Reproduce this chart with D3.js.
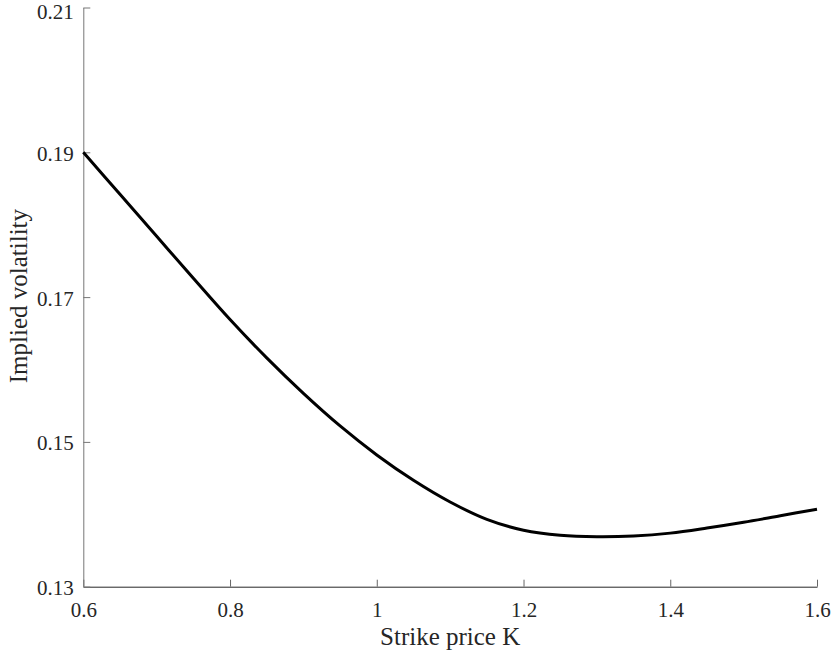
<!DOCTYPE html>
<html>
<head>
<meta charset="utf-8">
<script src="https://cdn.jsdelivr.net/npm/d3@7"></script>
<style>
  html, body { margin: 0; padding: 0; background: #fff; }
  svg { display: block; }
</style>
</head>
<body>
<svg id="chart" width="836" height="656"></svg>
<script>
const strikes = [0.6, 0.65, 0.7, 0.75, 0.8, 0.85, 0.9, 0.95, 1.0, 1.05, 1.1, 1.15, 1.2, 1.25, 1.3, 1.35, 1.4, 1.45, 1.5, 1.55, 1.6];
const impliedVol = [0.1900, 0.1842, 0.1784, 0.1726, 0.1669, 0.1616, 0.1567, 0.1522, 0.1482, 0.1447, 0.1417, 0.1393, 0.1378, 0.1371, 0.1369, 0.1370, 0.1374, 0.1381, 0.1389, 0.1398, 0.1407];
const xTicks = [0.6, 0.8, 1.0, 1.2, 1.4, 1.6];
const xTickLabels = ["0.6", "0.8", "1", "1.2", "1.4", "1.6"];
const yTicks = [0.13, 0.15, 0.17, 0.19, 0.21];
const yTickLabels = ["0.13", "0.15", "0.17", "0.19", "0.21"];
const xLabel = "Strike price K";
const yLabel = "Implied volatility";

const FONT = '"Liberation Serif", "Times New Roman", "DejaVu Serif", serif';
const svg = d3.select("#chart");
const mLeft = 83.3, mRight = 817, mTop = 7.5, mBottom = 586.7;
const x = d3.scaleLinear().domain([0.6, 1.6]).range([mLeft, mRight]);
const y = d3.scaleLinear().domain([0.13, 0.21]).range([mBottom, mTop]);

const data = strikes.map((k, i) => ({k, v: impliedVol[i]}));

// x axis
const xAxis = d3.axisBottom(x).tickValues(xTicks)
  .tickFormat((d, i) => xTickLabels[i]).tickSizeInner(-7).tickSizeOuter(0);
const gx = svg.append("g").attr("transform", `translate(0,${mBottom})`).call(xAxis);
gx.attr("font-family", FONT);
gx.select(".domain").attr("stroke", "#262626");
gx.selectAll(".tick line").attr("stroke", "#666");
gx.selectAll(".tick text").attr("font-family", FONT).attr("font-size", 21)
  .attr("fill", "#262626").attr("y", 30).attr("dy", 0);

// y axis
const yAxis = d3.axisLeft(y).tickValues(yTicks)
  .tickFormat((d, i) => yTickLabels[i]).tickSizeInner(-7).tickSizeOuter(0);
const gy = svg.append("g").attr("transform", `translate(${mLeft},0)`).call(yAxis);
gy.attr("font-family", FONT);
gy.select(".domain").attr("stroke", "#777");
gy.selectAll(".tick line").attr("stroke", "#777");
gy.selectAll(".tick text").attr("font-family", FONT).attr("font-size", 21)
  .attr("fill", "#262626").attr("x", -9.5)
  .attr("dy", d => d === 0.21 ? "0.52em" : "0.38em");

// line
const line = d3.line().x(d => x(d.k)).y(d => y(d.v)).curve(d3.curveCatmullRom.alpha(0.5));
svg.append("path").datum(data).attr("d", line)
  .attr("fill", "none").attr("stroke", "#000").attr("stroke-width", 3)
  .attr("stroke-linejoin", "round");

// labels
svg.append("text").attr("x", (mLeft + mRight) / 2).attr("y", 645)
  .attr("text-anchor", "middle").attr("font-family", FONT).attr("font-size", 25)
  .attr("fill", "#262626").text(xLabel);
svg.append("text").attr("transform", `translate(27,${(mTop + mBottom) / 2 - 1}) rotate(-90)`)
  .attr("text-anchor", "middle").attr("font-family", FONT).attr("font-size", 25)
  .attr("fill", "#262626").text(yLabel);
</script>
</body>
</html>
